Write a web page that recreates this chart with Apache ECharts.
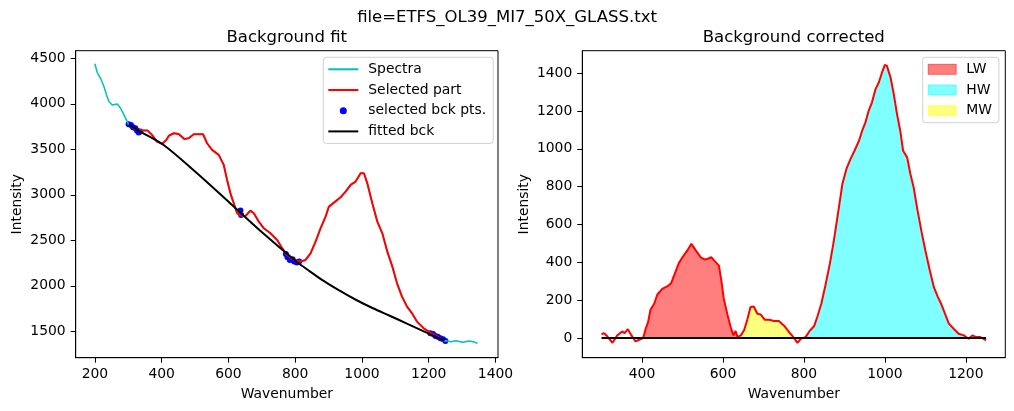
<!DOCTYPE html>
<html>
<head>
<meta charset="utf-8">
<script src="https://cdn.jsdelivr.net/npm/echarts@6/dist/echarts.min.js"></script>
<style>
	html, body { margin: 0; padding: 0; background: #fff; }
	#chart { width: 1014px; height: 411px; }
</style>
</head>
<body>
<div id="chart"></div>
<script>
// raw spectrum, visible only outside the selected range
const spectraStart = [[200, 4440], [207, 4343], [217, 4280], [227, 4189], [235, 4097], [242, 4024], [252, 3987], [257, 3969], [267, 3998], [277, 3950], [287, 3877], [297, 3804], [301, 3767]]
const spectraEnd = [[1245, 1394], [1252, 1397], [1267, 1386], [1282, 1397], [1301, 1379], [1321, 1394], [1336, 1383], [1346, 1368]]

const selectedPart = [
	[301, 3767], [321, 3720], [341, 3705], [358, 3705], [371, 3658], [386, 3584], [401, 3559], [414, 3603],
	[421, 3647], [436, 3676], [451, 3668], [468, 3614], [481, 3621], [496, 3665], [524, 3665], [536, 3566],
	[551, 3493], [571, 3438], [586, 3328], [596, 3163], [606, 3016], [616, 2907], [626, 2797], [641, 2767],
	[651, 2767], [666, 2826], [676, 2797], [691, 2705], [706, 2632], [726, 2577], [746, 2504], [761, 2412],
	[776, 2339], [796, 2284], [816, 2266], [831, 2284], [846, 2357], [861, 2485], [876, 2632], [891, 2760],
	[901, 2870], [916, 2914], [936, 2973], [951, 3035], [966, 3108], [981, 3145], [996, 3236], [1006, 3236],
	[1016, 3126], [1031, 2907], [1046, 2705], [1061, 2577], [1076, 2375], [1091, 2211], [1105, 2027], [1120, 1881],
	[1135, 1771], [1150, 1698], [1165, 1606], [1185, 1533], [1205, 1485], [1225, 1441], [1245, 1394]
]

const bckPoints = [
	[301, 3775], [308, 3767], [314, 3742], [321, 3731], [326, 3705], [331, 3683], [336, 3694],
	[636, 2826], [638, 2778],
	[772, 2350], [777, 2313], [784, 2284], [792, 2291], [797, 2266], [805, 2255], [812, 2266],
	[1205, 1478], [1213, 1471], [1220, 1449], [1227, 1441], [1235, 1423], [1243, 1412], [1250, 1394]
]

const fittedBck = [
	[301, 3767], [336, 3694], [406, 3547], [506, 3236], [605, 2907], [704, 2577], [804, 2265], [834, 2185],
	[884, 2056], [933, 1946], [983, 1844], [1033, 1753], [1083, 1671], [1133, 1588], [1182, 1505], [1247, 1397]
]

// background-corrected spectrum
const corrected = [
	[300, 19], [306, 26], [314, 9], [327, -25], [339, 14], [351, 35], [357, 26], [365, 47], [374, 14], [384, -18],
	[393, -9], [403, 0], [409, 49], [415, 84], [421, 150], [430, 181], [438, 230], [450, 260], [463, 274], [472, 290],
	[481, 340], [491, 396], [500, 427], [512, 463], [522, 498], [532, 466], [545, 427], [555, 415], [563, 419], [571, 427],
	[582, 401], [590, 383], [596, 304], [602, 208], [611, 125], [619, 58], [626, 14], [631, 37], [636, 5], [644, 14],
	[652, 40], [660, 97], [668, 164], [676, 167], [685, 128], [693, 125], [703, 97], [714, 97], [726, 90], [738, 90],
	[751, 65], [763, 32], [774, 5], [784, -26], [792, -4], [804, 5], [815, 40], [825, 62], [833, 111], [843, 181],
	[853, 278], [864, 392], [874, 515], [884, 656], [895, 814], [905, 894], [915, 946], [925, 990], [936, 1043], [944, 1096],
	[952, 1140], [960, 1201], [968, 1245], [977, 1316], [985, 1351], [993, 1404], [1000, 1444], [1005, 1439], [1014, 1377], [1022, 1289],
	[1030, 1184], [1038, 1096], [1045, 990], [1055, 955], [1063, 867], [1071, 797], [1080, 683], [1090, 568], [1100, 463], [1111, 357],
	[1121, 269], [1131, 216], [1139, 181], [1147, 137], [1158, 76], [1170, 49], [1182, 23], [1195, 14], [1207, -4], [1216, 14],
	[1226, 5], [1236, 5], [1244, -4], [1250, -12]
]

const bands = [
	{ name: 'LW', range: [403, 636], color: 'rgba(255,0,0,0.5)' },
	{ name: 'HW', range: [804, 1195], color: 'rgba(0,255,255,0.5)' },
	{ name: 'MW', range: [636, 784], color: 'rgba(255,255,0,0.5)' }
]

const leftXTicks = [200, 400, 600, 800, 1000, 1200, 1400]
const leftYTicks = [1500, 2000, 2500, 3000, 3500, 4000, 4500]
const rightXTicks = [400, 600, 800, 1000, 1200]
const rightYTicks = [0, 200, 400, 600, 800, 1000, 1200, 1400]

const font = 'DejaVu Sans'
const labelStyle = { color: '#000', fontFamily: font, fontSize: 13.9 }
const titleStyle = { fontFamily: font, fontSize: 16.5, fontWeight: 'normal', color: '#000' }

function valueAxis(gridIndex, min, max, ticks, extra) {
	return Object.assign({
		type: 'value',
		gridIndex,
		min,
		max,
		axisLine: { show: true, onZero: false, lineStyle: { color: '#000', width: 1 } },
		axisTick: { show: true, length: 5, customValues: ticks, lineStyle: { color: '#000' } },
		axisLabel: Object.assign({ customValues: ticks, margin: 10, formatter: (v) => String(v) }, labelStyle),
		splitLine: { show: false },
		nameLocation: 'middle',
		nameTextStyle: labelStyle
	}, extra)
}

// legend entry for a line series: plain line, no marker
function lineEntry(name) {
	return { name, itemStyle: { color: 'rgba(0,0,0,0)', borderWidth: 0 } }
}

const chart = echarts.init(document.getElementById('chart'), null, { renderer: 'canvas' })

const option = {
	animation: false,
	backgroundColor: '#fff',
	title: [
		{ text: 'file=ETFS_OL39_MI7_50X_GLASS.txt', left: 507, top: 9, textAlign: 'center', padding: 0, textStyle: titleStyle },
		{ text: 'Background fit', left: 286.8, top: 29.5, textAlign: 'center', padding: 0, textStyle: titleStyle },
		{ text: 'Background corrected', left: 793.8, top: 29.5, textAlign: 'center', padding: 0, textStyle: titleStyle }
	],
	grid: [
		{ left: 75.7, top: 50.7, width: 422.3, height: 307, show: true, borderColor: '#000', borderWidth: 1, containLabel: false, outerBoundsMode: 'none' },
		{ left: 582.3, top: 50.7, width: 423, height: 307, show: true, borderColor: '#000', borderWidth: 1, containLabel: false, outerBoundsMode: 'none' }
	],
	xAxis: [
		valueAxis(0, 142.5, 1407.5, leftXTicks, { name: 'Wavenumber', nameGap: 30 }),
		valueAxis(1, 252.5, 1297.5, rightXTicks, { name: 'Wavenumber', nameGap: 30 })
	],
	yAxis: [
		valueAxis(0, 1210, 4583, leftYTicks, { name: 'Intensity', nameGap: 51 }),
		valueAxis(1, -104, 1519, rightYTicks, { name: 'Intensity', nameGap: 51 })
	],
	legend: [
		{
			orient: 'vertical', left: 323.3, top: 57.3, padding: [5, 7, 5, 4],
			itemWidth: 30, itemHeight: 7, itemGap: 6.7,
			backgroundColor: '#fff', borderColor: '#d0d0d0', borderWidth: 1, borderRadius: 3,
			textStyle: Object.assign({ lineHeight: 14, padding: [0, 0, 0, 5] }, labelStyle),
			data: [lineEntry('Spectra'), lineEntry('Selected part'), { name: 'selected bck pts.', icon: 'circle' }, lineEntry('fitted bck')]
		},
		{
			orient: 'vertical', left: 922.7, top: 57.3, padding: [5, 7, 5, 5],
			itemWidth: 28, itemHeight: 10, itemGap: 6.7,
			backgroundColor: '#fff', borderColor: '#d0d0d0', borderWidth: 1, borderRadius: 3,
			textStyle: Object.assign({ lineHeight: 14, padding: [0, 0, 0, 5] }, labelStyle),
			data: bands.map((b) => ({ name: b.name, icon: 'rect', itemStyle: { color: b.color, borderColor: b.color, borderWidth: 1 } }))
		}
	],
	series: [
		{
			name: 'Spectra', type: 'line', xAxisIndex: 0, yAxisIndex: 0, symbol: 'none',
			data: spectraStart.concat(selectedPart, spectraEnd),
			lineStyle: { color: '#00bfbf', width: 1.5 }, itemStyle: { color: '#00bfbf' }
		},
		{
			name: 'Selected part', type: 'line', xAxisIndex: 0, yAxisIndex: 0, symbol: 'none',
			data: selectedPart,
			lineStyle: { color: '#ff0000', width: 2 }, itemStyle: { color: '#ff0000' }
		},
		{
			name: 'selected bck pts.', type: 'scatter', xAxisIndex: 0, yAxisIndex: 0, symbolSize: 6,
			data: bckPoints, itemStyle: { color: '#0000ff', opacity: 1 }
		},
		{
			name: 'fitted bck', type: 'line', xAxisIndex: 0, yAxisIndex: 0, symbol: 'none', smooth: 0.3,
			data: fittedBck,
			lineStyle: { color: '#000', width: 2 }, itemStyle: { color: '#000' }
		},
		...bands.map((b) => ({
			name: b.name, type: 'line', xAxisIndex: 1, yAxisIndex: 1, symbol: 'none',
			data: corrected.filter((p) => p[0] >= b.range[0] && p[0] <= b.range[1]),
			lineStyle: { width: 0 }, itemStyle: { color: b.color },
			areaStyle: { color: b.color, opacity: 1, origin: 'auto' }
		})),
		{
			name: 'corrected', type: 'line', xAxisIndex: 1, yAxisIndex: 1, symbol: 'none',
			data: corrected,
			lineStyle: { color: '#ff0000', width: 2 }
		},
		{
			name: 'zero', type: 'line', xAxisIndex: 1, yAxisIndex: 1, symbol: 'none',
			data: [[corrected[0][0], 0], [corrected[corrected.length - 1][0], 0]],
			lineStyle: { color: '#000', width: 2 }
		}
	]
}

chart.setOption(option)
</script>
</body>
</html>
